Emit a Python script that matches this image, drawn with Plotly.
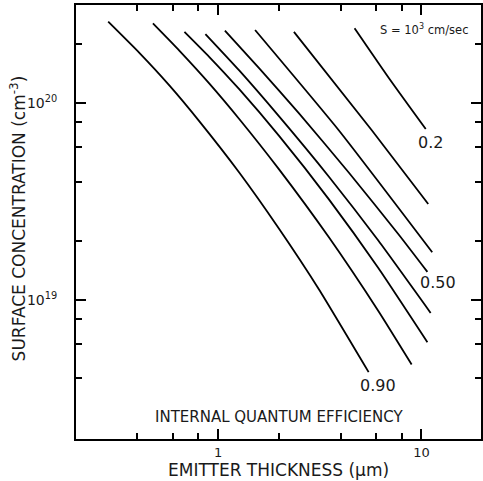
import numpy as np
import plotly.graph_objects as go

# ---- data (emitter thickness in um, surface concentration in cm^-3) ----
efficiency = ["0.90", "0.80", "0.70", "0.60", "0.50", "0.40", "0.30", "0.2"]

thick_090 = [0.288, 0.411, 0.577, 0.809, 1.27, 1.99, 3.13, 5.5]
conc_090 = [2.6e20, 1.8e20, 1.23e20, 8.1e19, 4.45e19, 2.31e19, 1.135e19, 4.3e18]

thick_080 = [0.478, 0.646, 0.906, 1.27, 1.99, 3.5, 6.15, 8.95]
conc_080 = [2.55e20, 1.85e20, 1.26e20, 8.33e19, 4.63e19, 2.09e19, 8.77e18, 4.7e18]

thick_070 = [0.683, 0.906, 1.27, 1.99, 3.5, 6.15, 10.7]
conc_070 = [2.31e20, 1.72e20, 1.18e20, 6.85e19, 3.26e19, 1.45e19, 6.1e18]

thick_060 = [0.866, 1.27, 1.99, 3.5, 6.15, 11.1]
conc_060 = [2.25e20, 1.47e20, 8.61e19, 4.25e19, 2.0e19, 8.6e18]

thick_050 = [1.08, 1.59, 2.5, 4.39, 7.71, 10.7]
conc_050 = [2.34e20, 1.51e20, 8.9e19, 4.45e19, 2.16e19, 1.39e19]

thick_040 = [1.52, 3.92, 11.3]
conc_040 = [2.36e20, 7.3e19, 1.75e19]

thick_030 = [2.36, 5.7, 10.8]
conc_030 = [2.31e20, 7.3e19, 3.08e19]

thick_020 = [4.69, 7.04, 10.5]
conc_020 = [2.41e20, 1.31e20, 7.4e19]

x_tickvals = [1, 10]
x_ticktext = ["1", "10"]
x_minor = [0.4, 0.6, 0.8, 2, 4, 6, 8]
y_tickvals = [1e19, 1e20]
y_ticktext = ["10<sup>19</sup>", "10<sup>20</sup>"]
y_minor = [4e18, 6e18, 8e18, 2e19, 4e19, 6e19, 8e19, 2e20]

series = [
    (thick_090, conc_090), (thick_080, conc_080), (thick_070, conc_070),
    (thick_060, conc_060), (thick_050, conc_050), (thick_040, conc_040),
    (thick_030, conc_030), (thick_020, conc_020),
]

FONT = "DejaVu Sans"
INK = "#1a1a1a"

fig = go.Figure()
for name, (xs, ys) in zip(efficiency, series):
    fig.add_trace(go.Scatter(x=xs, y=ys, mode="lines", name=name,
                             line=dict(color="black", width=1.8, shape="spline", smoothing=0.5),
                             hoverinfo="skip"))

axis_common = dict(
    type="log", showline=True, linecolor="black", linewidth=2, mirror="ticks",
    ticks="inside", ticklen=10, tickwidth=1.5, tickcolor="black",
    showgrid=False, zeroline=False,
    tickfont=dict(family=FONT, size=14, color=INK),
)

fig.update_xaxes(**axis_common, range=[np.log10(0.2), 1.293],
                 tickvals=x_tickvals, ticktext=x_ticktext,
                 minor=dict(tickvals=x_minor, ticks="inside", ticklen=6, tickwidth=1.5,
                            tickcolor="black", showgrid=False))
fig.update_xaxes(tickfont=dict(family=FONT, size=13, color=INK))
fig.update_yaxes(**axis_common, range=[18.2935, 20.5],
                 tickvals=y_tickvals, ticktext=y_ticktext, ticklabelstandoff=14,
                 minor=dict(tickvals=y_minor, ticks="inside", ticklen=6, tickwidth=1.5,
                            tickcolor="black", showgrid=False))

annotations = [
    dict(text="SURFACE CONCENTRATION (cm<sup>-3</sup>)", xref="paper", yref="paper",
         x=-0.1425, y=0.509, textangle=-90, showarrow=False,
         xanchor="center", yanchor="middle", font=dict(family=FONT, size=17, color=INK)),
    dict(text="EMITTER THICKNESS (\u03bcm)", xref="paper", yref="paper",
         x=0.5, y=-0.072, showarrow=False, xanchor="center", yanchor="middle",
         font=dict(family=FONT, size=17, color=INK)),
    dict(text="INTERNAL QUANTUM EFFICIENCY", xref="paper", yref="paper",
         x=0.5, y=0.0514, showarrow=False, xanchor="center", yanchor="middle",
         font=dict(family=FONT, size=15, color=INK)),
    dict(text="S = 10<sup>3</sup> cm/sec", xref="paper", yref="paper",
         x=0.86, y=0.944, showarrow=False, xanchor="center", yanchor="middle",
         font=dict(family=FONT, size=11.5, color=INK)),
]
# efficiency labels attached to the end of labelled curves
for idx, dx, dy in [(0, 9, -13), (4, 11, -11), (7, 5, -13)]:
    xs, ys = series[idx]
    annotations.append(dict(text=efficiency[idx], x=np.log10(xs[-1]), y=np.log10(ys[-1]),
                            xref="x", yref="y", showarrow=False, xshift=dx, yshift=dy,
                            xanchor="center", yanchor="middle",
                            font=dict(family=FONT, size=16, color=INK)))

fig.update_layout(
    width=483, height=481,
    margin=dict(l=76, r=0, t=5, b=42),
    paper_bgcolor="white", plot_bgcolor="white",
    showlegend=False,
    annotations=annotations,
)

fig.write_html("out.html")
